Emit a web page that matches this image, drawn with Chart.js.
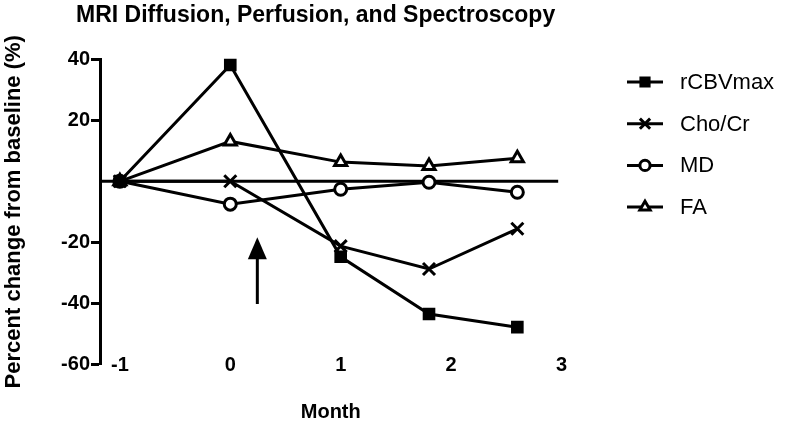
<!DOCTYPE html>
<html>
<head>
<meta charset="utf-8">
<script src="https://cdn.jsdelivr.net/npm/chart.js@4.4.1/dist/chart.umd.min.js"></script>
<style>
  html, body { margin: 0; padding: 0; background: #fff; }
  #wrap { width: 787px; height: 422px; }
</style>
</head>
<body>
<div id="wrap"><canvas id="mri-chart"></canvas></div>
<script>
// Data (scan times in months, not evenly spaced)
const months = [-1, 0, 1, 1.8, 2.6];
const rcbvMax = [0, 38.2, -24.8, -43.6, -47.9];
const choCr = [0, 0, -21.3, -28.8, -15.6];
const md = [0, -7.5, -2.6, -0.3, -3.6];
const fa = [0, 13.1, 6.3, 5, 7.6];
const xTicks = [-1, 0, 1, 2, 3];
const yTicks = [-60, -40, -20, 20, 40];
const seriesNames = ['rCBVmax', 'Cho/Cr', 'MD', 'FA'];
const arrowX = 0.245;
const arrowFrom = -40.3;
const arrowTo = -18.4;

const FONT = "'Liberation Sans', Arial, Helvetica, sans-serif";
const BLACK = '#000';

function toPoints(values) {
    return months.map(function (m, i) { return { x: m, y: values[i] }; });
}

function makeSet(label, values, style, radius, fill) {
    return {
        label: label,
        data: toPoints(values),
        borderColor: BLACK,
        borderWidth: 3,
        pointStyle: style,
        pointRadius: radius,
        pointBorderWidth: 3,
        pointBorderColor: BLACK,
        pointBackgroundColor: fill,
        tension: 0,
        clip: false
    };
}

const datasets = [
    makeSet(seriesNames[0], rcbvMax, 'rect', 6.8, BLACK),
    makeSet(seriesNames[1], choCr, 'crossRot', 8.5, BLACK),
    makeSet(seriesNames[2], md, 'circle', 6, '#fff'),
    makeSet(seriesNames[3], fa, 'triangle', 7, '#fff')
];

// zero line, arrow, month labels, title and legend
const extras = {
    id: 'extras',
    beforeDatasetsDraw: function (chart) {
        const ctx = chart.ctx;
        const area = chart.chartArea;
        const xs = chart.scales.x, ys = chart.scales.y;
        ctx.save();
        ctx.strokeStyle = BLACK;
        ctx.lineWidth = 3;
        ctx.beginPath();
        ctx.moveTo(area.left, ys.getPixelForValue(0));
        ctx.lineTo(xs.getPixelForValue(2.97), ys.getPixelForValue(0));
        ctx.stroke();

        // arrow
        const ax = xs.getPixelForValue(arrowX);
        const y0 = ys.getPixelForValue(arrowFrom);
        const y1 = ys.getPixelForValue(arrowTo);
        ctx.beginPath();
        ctx.moveTo(ax, y0);
        ctx.lineTo(ax, y1 + 18);
        ctx.stroke();
        ctx.fillStyle = BLACK;
        ctx.beginPath();
        ctx.moveTo(ax, y1);
        ctx.lineTo(ax - 9.5, y1 + 22);
        ctx.lineTo(ax + 9.5, y1 + 22);
        ctx.closePath();
        ctx.fill();

        // month labels sit level with the bottom of the y axis
        ctx.font = 'bold 20px ' + FONT;
        ctx.textAlign = 'center';
        ctx.textBaseline = 'middle';
        xTicks.forEach(function (m) {
            ctx.fillText(String(m), xs.getPixelForValue(m), area.bottom + 1);
        });
        ctx.restore();
    },
    afterDraw: function (chart) {
        const ctx = chart.ctx;
        ctx.save();
        ctx.fillStyle = BLACK;
        ctx.textAlign = 'left';
        ctx.textBaseline = 'alphabetic';
        ctx.font = 'bold 23px ' + FONT;
        ctx.fillText('MRI Diffusion, Perfusion, and Spectroscopy', 76, 22);

        // legend: line through marker, then label
        ctx.textBaseline = 'middle';
        chart.data.datasets.forEach(function (ds, i) {
            const y = 82 + i * 41.7;
            const x0 = 627, x1 = 663;
            ctx.strokeStyle = BLACK;
            ctx.lineWidth = 3;
            ctx.beginPath();
            ctx.moveTo(x0, y);
            ctx.lineTo(x1, y);
            ctx.stroke();
            ctx.fillStyle = ds.pointBackgroundColor;
            ctx.strokeStyle = BLACK;
            Chart.helpers.drawPoint(ctx, {
                pointStyle: ds.pointStyle,
                radius: ds.pointRadius * 0.85,
                borderWidth: 2.5
            }, (x0 + x1) / 2, y);
            ctx.fillStyle = BLACK;
            ctx.font = '22px ' + FONT;
            ctx.fillText(ds.label, 680, y + 1);
        });
        ctx.restore();
    }
};

new Chart(document.getElementById('mri-chart').getContext('2d'), {
    type: 'line',
    data: { datasets: datasets },
    options: {
        responsive: true,
        maintainAspectRatio: false,
        animation: false,
        layout: { padding: { top: 59.5, right: 225.5, left: 0, bottom: 0 } },
        plugins: {
            legend: { display: false },
            title: { display: false },
            tooltip: { enabled: false }
        },
        scales: {
            x: {
                type: 'linear',
                min: -1.18,
                max: 3,
                afterBuildTicks: function (scale) {
                    scale.ticks = xTicks.map(function (m) { return { value: m }; });
                },
                afterFit: function (scale) { scale.height = 58; },
                grid: { display: false, drawTicks: false },
                border: { display: false },
                ticks: { display: false },
                title: {
                    display: true,
                    text: 'Month',
                    color: BLACK,
                    padding: { top: 0, bottom: 0 },
                    font: { family: FONT, size: 20, weight: 'bold', lineHeight: 1 }
                }
            },
            y: {
                min: -60,
                max: 40,
                afterBuildTicks: function (scale) {
                    scale.ticks = yTicks.map(function (v) { return { value: v }; });
                },
                afterFit: function (scale) { scale.width = 100; },
                grid: {
                    drawOnChartArea: false,
                    drawTicks: true,
                    tickLength: 9,
                    tickWidth: 3,
                    tickColor: BLACK
                },
                border: { display: true, color: BLACK, width: 3 },
                ticks: {
                    color: BLACK,
                    padding: 1,
                    font: { family: FONT, size: 20, weight: 'bold' }
                },
                title: {
                    display: true,
                    text: 'Percent change from baseline (%)',
                    color: BLACK,
                    padding: { top: 1, bottom: 0 },
                    font: { family: FONT, size: 22, weight: 'bold' }
                }
            }
        }
    },
    plugins: [extras]
});
</script>
</body>
</html>
